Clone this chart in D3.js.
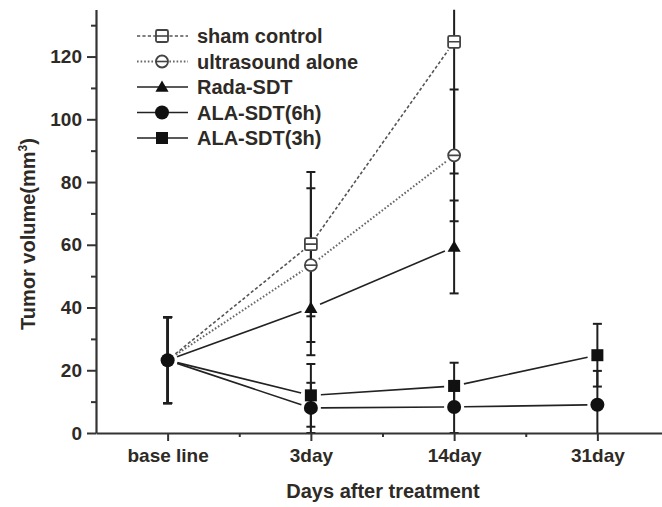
<!DOCTYPE html>
<html>
<head>
<meta charset="utf-8">
<script src="https://cdn.jsdelivr.net/npm/d3@7/dist/d3.min.js"></script>
<style>
  html, body { margin: 0; padding: 0; background: #fff; }
  svg { display: block; }
  text { font-family: "Liberation Sans", Arial, sans-serif; font-weight: bold; fill: #2e2a26; }
</style>
</head>
<body>
<svg id="chart" width="662" height="507"></svg>
<script>
// Time points and y-axis ticks
const categories = ["base line", "3day", "14day", "31day"];
const yTicks = [0, 20, 40, 60, 80, 100, 120];
const yMinorTicks = [10, 30, 50, 70, 90, 110, 130];

// Mean tumor volume (mm^3) per group and its error (±)
const seriesNames = ["sham control", "ultrasound alone", "Rada-SDT", "ALA-SDT(6h)", "ALA-SDT(3h)"];
const shamControl     = [23.2, 60.2, 124.7];
const shamControlErr  = [13.7, 23.0, 42.0];
const ultrasoundAlone = [23.2, 53.5, 88.5];
const ultrasoundErr   = [13.7, 24.5, 21.0];
const radaSDT         = [23.2, 39.8, 59.3];
const radaSDTErr      = [13.7, 15.0, 14.8];
const alaSDT6h        = [23.2, 8.0, 8.3, 9.0];
const alaSDT6hErr     = [13.7, 8.0, 8.3, 10.8];
const alaSDT3h        = [23.2, 12.0, 15.0, 24.8];
const alaSDT3hErr     = [13.7, 10.0, 7.4, 10.0];

// Drawing order: later groups sit on top
const groups = [
  { name: seriesNames[0], values: shamControl,     errors: shamControlErr, marker: "squareBar", dash: "3.2,2.2", stroke: "#555", width: 1.6 },
  { name: seriesNames[1], values: ultrasoundAlone, errors: ultrasoundErr,  marker: "circleBar", dash: "1.6,2",   stroke: "#666", width: 2 },
  { name: seriesNames[2], values: radaSDT,         errors: radaSDTErr,     marker: "triangle",  dash: null,      stroke: "#222", width: 1.6 },
  { name: seriesNames[4], values: alaSDT3h,        errors: alaSDT3hErr,    marker: "square",    dash: null,      stroke: "#222", width: 1.6 },
  { name: seriesNames[3], values: alaSDT6h,        errors: alaSDT6hErr,    marker: "circle",    dash: null,      stroke: "#222", width: 1.6 }
];

const svg = d3.select("#chart");
const plotLeft = 96, plotRight = 669, plotTop = 9.5, plotBottom = 433;

const x = d3.scaleLinear().domain([-0.5, 3.5]).range([plotLeft, plotRight]);
const y = d3.scaleLinear().domain([0, 135]).range([plotBottom, plotTop]);

svg.append("defs").append("clipPath").attr("id", "plot")
  .append("rect").attr("x", plotLeft).attr("y", plotTop).attr("width", plotRight - plotLeft).attr("height", plotBottom - plotTop);

const plot = svg.append("g").attr("clip-path", "url(#plot)");

// Error bars
const capW = 4.5;
groups.forEach(g => {
  g.values.forEach((v, i) => {
    const e = g.errors[i];
    const hi = v + e, lo = v - e;
    const cx = x(i);
    const eb = plot.append("g").attr("stroke", "#1e1e1e").attr("stroke-width", 2);
    eb.append("line").attr("x1", cx).attr("x2", cx)
      .attr("y1", y(Math.min(hi, 135))).attr("y2", y(Math.max(lo, 0)));
    if (hi <= 135) eb.append("line").attr("x1", cx - capW).attr("x2", cx + capW).attr("y1", y(hi)).attr("y2", y(hi));
    if (lo >= 0) eb.append("line").attr("x1", cx - capW).attr("x2", cx + capW).attr("y1", y(lo)).attr("y2", y(lo));
  });
});

// Connecting lines, with a small gap around each symbol
const gap = 10;
groups.forEach(g => {
  for (let i = 0; i < g.values.length - 1; i++) {
    const x1 = x(i), y1 = y(g.values[i]), x2 = x(i + 1), y2 = y(g.values[i + 1]);
    const len = Math.hypot(x2 - x1, y2 - y1);
    const ux = (x2 - x1) / len, uy = (y2 - y1) / len;
    plot.append("line")
      .attr("x1", x1 + ux * gap).attr("y1", y1 + uy * gap)
      .attr("x2", x2 - ux * gap).attr("y2", y2 - uy * gap)
      .attr("stroke", g.stroke).attr("stroke-width", g.width)
      .attr("stroke-dasharray", g.dash);
  }
});

function drawMarker(sel, type, cx, cy) {
  const s = 6;
  if (type === "squareBar") {
    sel.append("rect").attr("x", cx - s).attr("y", cy - s).attr("width", 2 * s).attr("height", 2 * s).attr("rx", 1.5)
      .attr("fill", "#fff").attr("stroke", "#444").attr("stroke-width", 1.8);
    sel.append("line").attr("x1", cx - s).attr("x2", cx + s).attr("y1", cy).attr("y2", cy)
      .attr("stroke", "#444").attr("stroke-width", 1.6);
  } else if (type === "circleBar") {
    sel.append("circle").attr("cx", cx).attr("cy", cy).attr("r", s)
      .attr("fill", "#fff").attr("stroke", "#444").attr("stroke-width", 1.8);
    sel.append("line").attr("x1", cx - s).attr("x2", cx + s).attr("y1", cy).attr("y2", cy)
      .attr("stroke", "#444").attr("stroke-width", 1.6);
  } else if (type === "triangle") {
    sel.append("path").attr("d", d3.symbol(d3.symbolTriangle, 75)()).attr("transform", `translate(${cx},${cy + 1})`)
      .attr("fill", "#111");
  } else if (type === "square") {
    sel.append("rect").attr("x", cx - s).attr("y", cy - s).attr("width", 2 * s).attr("height", 2 * s)
      .attr("fill", "#111");
  } else if (type === "circle") {
    sel.append("circle").attr("cx", cx).attr("cy", cy).attr("r", 7).attr("fill", "#111");
  }
}

// Symbols; a point shared exactly with a later group is drawn only once, by the top group
groups.forEach((g, gi) => {
  g.values.forEach((v, i) => {
    const covered = groups.slice(gi + 1).some(o => o.values[i] === v);
    if (!covered) drawMarker(plot.append("g"), g.marker, x(i), y(v));
  });
});

// Axes
const axisColor = "#333";
svg.append("g").attr("transform", `translate(${plotLeft},0)`)
  .call(d3.axisLeft(y).tickValues(yTicks).tickSize(9).tickSizeOuter(0).tickPadding(5));
svg.append("g").attr("transform", `translate(${plotLeft},0)`)
  .call(d3.axisLeft(y).tickValues(yMinorTicks).tickSize(5).tickSizeOuter(0).tickFormat(""))
  .call(g => g.select(".domain").remove());

svg.append("g").attr("transform", `translate(0,${plotBottom})`)
  .call(d3.axisBottom(x).tickValues([0, 1, 2, 3]).tickFormat(i => categories[i]).tickSize(8).tickSizeOuter(0).tickPadding(8));
svg.append("g").attr("transform", `translate(0,${plotBottom})`)
  .call(d3.axisBottom(x).tickValues([0.5, 1.5, 2.5]).tickSize(4).tickSizeOuter(0).tickFormat(""))
  .call(g => g.select(".domain").remove());

svg.selectAll(".domain").attr("stroke", axisColor).attr("stroke-width", 2.2);
svg.selectAll(".tick line").attr("stroke", axisColor).attr("stroke-width", 2);
svg.selectAll(".tick text").attr("font-size", 19).attr("font-family", null).attr("fill", "#2e2a26");

// Axis titles
svg.append("text").attr("x", 383).attr("y", 498).attr("text-anchor", "middle").attr("font-size", 20)
  .text("Days after treatment");
const yt = svg.append("text").attr("transform", "translate(35,234) rotate(-90)").attr("text-anchor", "middle").attr("font-size", 20);
yt.append("tspan").text("Tumor volume(mm");
yt.append("tspan").attr("font-size", 12).attr("dy", -8).text("3");
yt.append("tspan").attr("dy", 8).text(")");

// Legend
const legendOrder = [
  { name: seriesNames[0], g: groups[0] },
  { name: seriesNames[1], g: groups[1] },
  { name: seriesNames[2], g: groups[2] },
  { name: seriesNames[3], g: groups[4] },
  { name: seriesNames[4], g: groups[3] }
];
const legend = svg.append("g");
legend.append("rect").attr("x", 130).attr("y", 20).attr("width", 246).attr("height", 134).attr("fill", "#fff");
legendOrder.forEach((d, k) => {
  const ly = 36 + k * 25.5;
  legend.append("line").attr("x1", 137).attr("x2", 188).attr("y1", ly).attr("y2", ly)
    .attr("stroke", d.g.stroke).attr("stroke-width", d.g.width).attr("stroke-dasharray", d.g.dash);
  drawMarker(legend.append("g"), d.g.marker, 162, ly);
  legend.append("text").attr("x", 197).attr("y", ly + 7).attr("font-size", 20).text(d.name);
});
</script>
</body>
</html>
